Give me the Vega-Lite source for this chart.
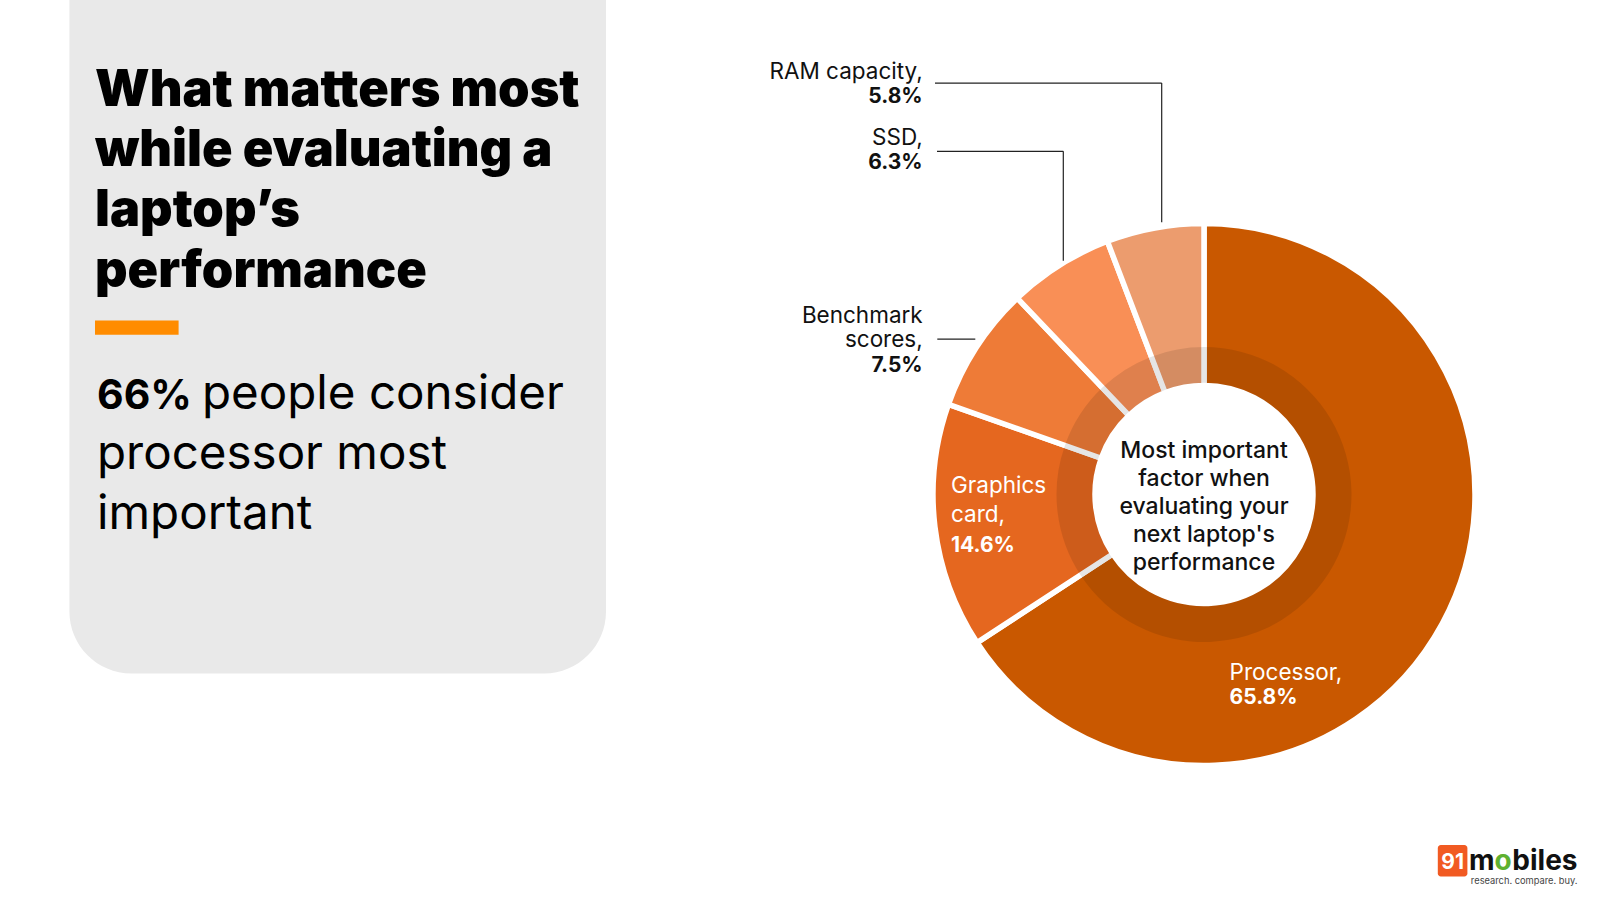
{
  "$schema": "https://vega.github.io/schema/vega-lite/v6.json",
  "width": 1600,
  "height": 900,
  "autosize": {"type": "fit", "contains": "padding"},
  "padding": 0,
  "background": "#ffffff",
  "config": {
    "view": {"stroke": null},
    "font": "Inter",
    "axis": {"disable": true},
    "legend": {"disable": true}
  },
  "datasets": {
    "factors": [
      {"factor": "Processor", "share": 65.8, "rank": 1},
      {"factor": "Graphics card", "share": 14.6, "rank": 2},
      {"factor": "Benchmark scores", "share": 7.5, "rank": 3},
      {"factor": "SSD", "share": 6.3, "rank": 4},
      {"factor": "RAM capacity", "share": 5.8, "rank": 5}
    ]
  },
  "layer": [
    {
      "data": {"values": [{}]},
      "mark": {"type": "rect", "color": "#e9e9e9", "cornerRadiusBottomLeft": 62, "cornerRadiusBottomRight": 62},
      "encoding": {
        "x": {"datum": 0.694, "type": "quantitative", "scale": {"domain": [0, 16], "nice": false, "zero": false}},
        "x2": {"datum": 6.06},
        "y": {"datum": 0, "type": "quantitative", "scale": {"domain": [0, 9], "reverse": true, "nice": false, "zero": false}},
        "y2": {"datum": 6.735}
      }
    },
    {
      "data": {"values": [{}]},
      "mark": {"type": "text", "text": ["What matters most", "while evaluating a", "laptop’s", "performance"], "align": "left", "baseline": "alphabetic", "fontSize": 50.5, "fontWeight": 900, "lineHeight": 60.2, "color": "#000000"},
      "encoding": {"x": {"datum": 0.95}, "y": {"datum": 1.061}}
    },
    {
      "data": {"values": [{}]},
      "mark": {"type": "rect", "color": "#ff8c00"},
      "encoding": {"x": {"datum": 0.95}, "x2": {"datum": 1.786}, "y": {"datum": 3.204}, "y2": {"datum": 3.347}}
    },
    {
      "data": {"values": [{}]},
      "mark": {"type": "text", "text": "66%", "align": "left", "baseline": "alphabetic", "fontSize": 41, "fontWeight": 700, "color": "#000000"},
      "encoding": {"x": {"datum": 0.97}, "y": {"datum": 4.09}}
    },
    {
      "data": {"values": [{}]},
      "mark": {"type": "text", "text": "people consider", "align": "left", "baseline": "alphabetic", "fontSize": 47.5, "fontWeight": 400, "color": "#000000"},
      "encoding": {"x": {"datum": 2.02}, "y": {"datum": 4.09}}
    },
    {
      "data": {"values": [{}]},
      "mark": {"type": "text", "text": ["processor most", "important"], "align": "left", "baseline": "alphabetic", "fontSize": 47.5, "fontWeight": 400, "lineHeight": 59.6, "color": "#000000"},
      "encoding": {"x": {"datum": 0.97}, "y": {"datum": 4.694}}
    },
    {
      "data": {"name": "factors"},
      "mark": {"type": "arc", "outerRadius": 271, "innerRadius": 109, "stroke": "#ffffff", "strokeWidth": 5.5},
      "encoding": {
        "x": {"datum": 12.04},
        "y": {"datum": 4.945},
        "theta": {"field": "share", "type": "quantitative", "stack": true},
        "order": {"field": "rank", "type": "quantitative"},
        "color": {
          "field": "factor",
          "type": "nominal",
          "scale": {
            "domain": ["Processor", "Graphics card", "Benchmark scores", "SSD", "RAM capacity"],
            "range": ["#c95800", "#e5671f", "#ee7b37", "#f98f56", "#ec9c6e"]
          },
          "legend": null
        }
      }
    },
    {
      "data": {"name": "factors"},
      "mark": {"type": "arc", "outerRadius": 147.5, "innerRadius": 111.7, "color": "#000000", "fillOpacity": 0.1},
      "encoding": {
        "x": {"datum": 12.04},
        "y": {"datum": 4.945},
        "theta": {"field": "share", "type": "quantitative", "stack": true},
        "order": {"field": "rank", "type": "quantitative"}
      }
    },
    {
      "data": {"values": [{}]},
      "mark": {"type": "text", "text": ["Most important", "factor when", "evaluating your", "next laptop's", "performance"], "align": "center", "baseline": "alphabetic", "fontSize": 23, "fontWeight": 500, "lineHeight": 28, "color": "#111111"},
      "encoding": {"x": {"datum": 12.04}, "y": {"datum": 4.582}}
    },
    {
      "data": {"name": "factors"},
      "transform": [
        {"filter": "datum.rank >= 3"},
        {"calculate": "datum.factor === 'Benchmark scores' ? ['Benchmark', 'scores,'] : datum.factor + ','", "as": "name"},
        {"calculate": "datum.rank === 3 ? 3.227 : datum.rank === 4 ? 1.45 : 0.793", "as": "nameY"}
      ],
      "mark": {"type": "text", "align": "right", "baseline": "alphabetic", "fontSize": 22.5, "fontWeight": 400, "lineHeight": 24.3, "color": "#111111"},
      "encoding": {"x": {"datum": 9.227}, "y": {"field": "nameY", "type": "quantitative"}, "text": {"field": "name", "type": "nominal"}}
    },
    {
      "data": {"name": "factors"},
      "transform": [
        {"filter": "datum.rank >= 3"},
        {"calculate": "format(datum.share, '.1f') + '%'", "as": "pct"},
        {"calculate": "datum.rank === 3 ? 3.715 : datum.rank === 4 ? 1.69 : 1.033", "as": "valueY"}
      ],
      "mark": {"type": "text", "align": "right", "baseline": "alphabetic", "fontSize": 21, "fontWeight": 700, "color": "#111111"},
      "encoding": {"x": {"datum": 9.227}, "y": {"field": "valueY", "type": "quantitative"}, "text": {"field": "pct", "type": "nominal"}}
    },
    {
      "data": {"name": "factors"},
      "transform": [
        {"filter": "datum.rank <= 2"},
        {"calculate": "datum.factor === 'Graphics card' ? ['Graphics', 'card,'] : datum.factor + ','", "as": "name"},
        {"calculate": "datum.rank === 2 ? 9.51 : 12.296", "as": "nameX"},
        {"calculate": "datum.rank === 2 ? 4.929 : 6.796", "as": "nameY"}
      ],
      "mark": {"type": "text", "align": "left", "baseline": "alphabetic", "fontSize": 22.5, "fontWeight": 400, "lineHeight": 29.6, "color": "#ffffff"},
      "encoding": {"x": {"field": "nameX", "type": "quantitative"}, "y": {"field": "nameY", "type": "quantitative"}, "text": {"field": "name", "type": "nominal"}}
    },
    {
      "data": {"name": "factors"},
      "transform": [
        {"filter": "datum.rank <= 2"},
        {"calculate": "format(datum.share, '.1f') + '%'", "as": "pct"},
        {"calculate": "datum.rank === 2 ? 9.51 : 12.296", "as": "valueX"},
        {"calculate": "datum.rank === 2 ? 5.52 : 7.04", "as": "valueY"}
      ],
      "mark": {"type": "text", "align": "left", "baseline": "alphabetic", "fontSize": 21, "fontWeight": 700, "color": "#ffffff"},
      "encoding": {"x": {"field": "valueX", "type": "quantitative"}, "y": {"field": "valueY", "type": "quantitative"}, "text": {"field": "pct", "type": "nominal"}}
    },
    {
      "data": {"values": [{}]},
      "mark": {"type": "rule", "color": "#222222", "strokeWidth": 1.2},
      "encoding": {"x": {"datum": 9.35}, "x2": {"datum": 11.617}, "y": {"datum": 0.831}}
    },
    {
      "data": {"values": [{}]},
      "mark": {"type": "rule", "color": "#222222", "strokeWidth": 1.2},
      "encoding": {"x": {"datum": 11.617}, "y": {"datum": 0.831}, "y2": {"datum": 2.223}}
    },
    {
      "data": {"values": [{}]},
      "mark": {"type": "rule", "color": "#222222", "strokeWidth": 1.2},
      "encoding": {"x": {"datum": 9.37}, "x2": {"datum": 10.633}, "y": {"datum": 1.513}}
    },
    {
      "data": {"values": [{}]},
      "mark": {"type": "rule", "color": "#222222", "strokeWidth": 1.2},
      "encoding": {"x": {"datum": 10.633}, "y": {"datum": 1.513}, "y2": {"datum": 2.607}}
    },
    {
      "data": {"values": [{}]},
      "mark": {"type": "rule", "color": "#222222", "strokeWidth": 1.2},
      "encoding": {"x": {"datum": 9.373}, "x2": {"datum": 9.753}, "y": {"datum": 3.391}}
    },
    {
      "data": {"values": [{}]},
      "mark": {"type": "rect", "color": "#f15a22", "cornerRadius": 3},
      "encoding": {"x": {"datum": 14.378}, "x2": {"datum": 14.674}, "y": {"datum": 8.45}, "y2": {"datum": 8.765}}
    },
    {
      "data": {"values": [{}]},
      "mark": {"type": "text", "text": "91", "align": "center", "baseline": "alphabetic", "fontSize": 21, "fontWeight": 700, "color": "#ffffff"},
      "encoding": {"x": {"datum": 14.526}, "y": {"datum": 8.69}}
    },
    {
      "data": {"values": [{}]},
      "mark": {"type": "text", "text": "m", "align": "left", "baseline": "alphabetic", "fontSize": 28, "fontWeight": 700, "color": "#111111"},
      "encoding": {"x": {"datum": 14.69}, "y": {"datum": 8.70}}
    },
    {
      "data": {"values": [{}]},
      "mark": {"type": "text", "text": "o", "align": "center", "baseline": "alphabetic", "fontSize": 28, "fontWeight": 700, "color": "#5fb130"},
      "encoding": {"x": {"datum": 15.03}, "y": {"datum": 8.70}}
    },
    {
      "data": {"values": [{}]},
      "mark": {"type": "text", "text": "biles", "align": "right", "baseline": "alphabetic", "fontSize": 28, "fontWeight": 700, "color": "#111111"},
      "encoding": {"x": {"datum": 15.775}, "y": {"datum": 8.70}}
    },
    {
      "data": {"values": [{}]},
      "mark": {"type": "text", "text": "research. compare. buy.", "align": "right", "baseline": "alphabetic", "fontSize": 9.3, "fontWeight": 400, "color": "#444444"},
      "encoding": {"x": {"datum": 15.775}, "y": {"datum": 8.84}}
    }
  ]
}
